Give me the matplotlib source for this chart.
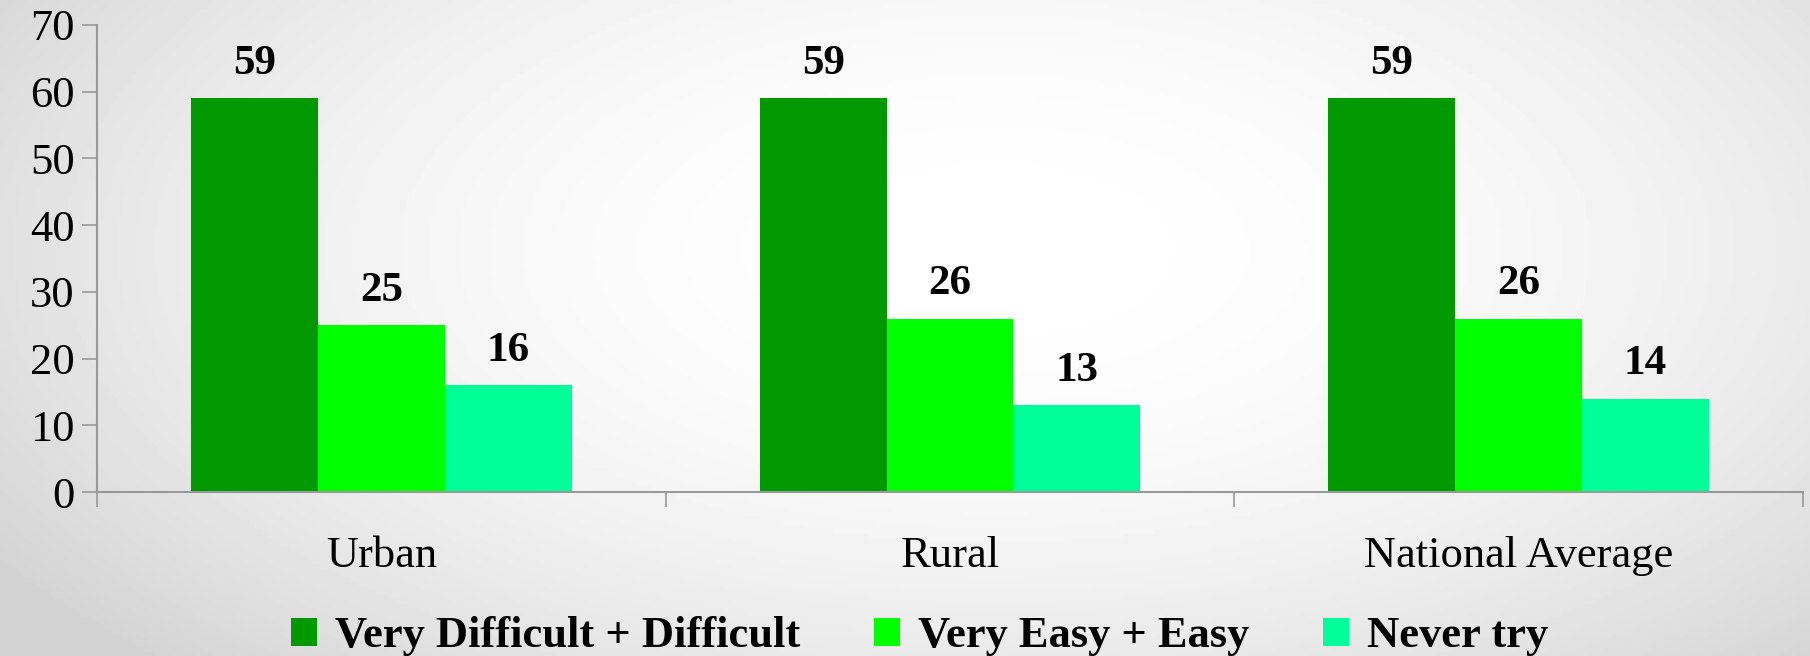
import matplotlib.pyplot as plt
import numpy as np

# datos
categories = ['Urban', 'Rural', 'National Average']
series_names = ['Very Difficult + Difficult', 'Very Easy + Easy', 'Never try']
difficult = [59, 59, 59]
easy = [25, 26, 26]
never = [16, 13, 14]
colors = ['#009900', '#00ff00', '#00ff99']
yticks = [0, 10, 20, 30, 40, 50, 60, 70]

plt.rcParams['font.family'] = ['Liberation Serif', 'DejaVu Serif']

fig = plt.figure(figsize=(18.1, 6.56), dpi=100)

# fondo con degradado radial
bg = fig.add_axes([0, 0, 1, 1], zorder=-10)
xx, yy = np.meshgrid(np.linspace(0, 1, 400), np.linspace(0, 1, 150))
dist = ((xx - 0.55) / 0.55) ** 2 + ((yy - 0.38) / 0.75) ** 2
shade = np.clip(1.0 - 0.12 * dist, 0.83, 1.0)
bg.imshow(shade, cmap='gray', vmin=0, vmax=1, aspect='auto', extent=[0, 1, 0, 1], origin='upper')
bg.axis('off')

ax = fig.add_axes([0.0536, 0.25, 0.9425, 0.712])
ax.patch.set_alpha(0)

width = 0.223
x = np.arange(len(categories)) + 0.5
series = [difficult, easy, never]
bars = []
for i, vals in enumerate(series):
    b = ax.bar(x + (i - 1) * width, vals, width, color=colors[i], label=series_names[i])
    ax.bar_label(b, padding=11, fontsize=31, fontweight='bold')
    bars.append(b)

ax.set_xlim(0, len(categories))
ax.set_ylim(0, 70)
ax.set_yticks(yticks)
ax.set_xticks(np.arange(len(categories) + 1))
ax.set_xticklabels([])
ax.set_xticks(x, minor=True)
ax.set_xticklabels(categories, minor=True)
ax.tick_params(axis='x', which='minor', length=0, pad=32, labelsize=32)
ax.tick_params(axis='x', which='major', length=11, width=1.2, color='#999999')
ax.tick_params(axis='y', length=11, width=1.2, color='#999999', labelsize=32, pad=5)

for s in ['top', 'right']:
    ax.spines[s].set_visible(False)
for s in ['left', 'bottom']:
    ax.spines[s].set_color('#999999')
    ax.spines[s].set_linewidth(1.5)

leg = fig.legend(handles=bars, labels=series_names, loc='center', ncol=3,
                 bbox_to_anchor=(0.508, 0.03), frameon=False,
                 prop={'size': 32, 'weight': 'bold'},
                 handlelength=0.6, handleheight=0.6, handletextpad=0.4,
                 columnspacing=1.65, borderpad=0)

fig.savefig('out.png', dpi=100)
